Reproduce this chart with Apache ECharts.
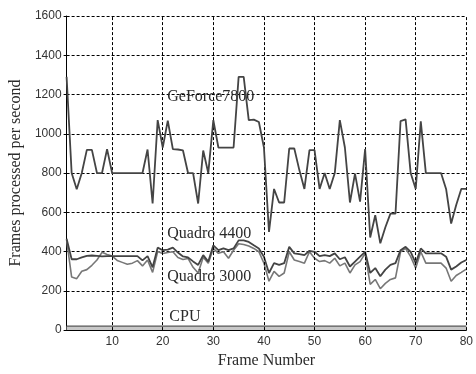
<!DOCTYPE html>
<html><head><meta charset="utf-8">
<script src="https://cdn.jsdelivr.net/npm/echarts@6/dist/echarts.min.js"></script>
<style>html,body{margin:0;padding:0;background:#fff}#c{width:476px;height:374px}</style>
</head><body><div id="c"></div><script>
const geforce7800 = [
  1290, 800, 718, 800, 918, 918, 800, 800, 922, 800,
  800, 800, 800, 800, 800, 800, 920, 645, 1070, 930,
  1067, 922, 920, 915, 800, 800, 645, 915, 800, 1070,
  930, 930, 930, 930, 1290, 1290, 1070, 1072, 1060, 930,
  500, 719, 650, 650, 925, 925, 815, 719, 917, 917,
  719, 800, 719, 800, 1070, 930, 650, 797, 654, 922,
  472, 585, 442, 524, 593, 593, 1065, 1073, 800, 719,
  1063, 800, 800, 800, 800, 719, 543, 637, 719, 719
];
const quadro4400 = [
  465, 361, 361, 370, 378, 380, 378, 376, 377, 377,
  377, 377, 377, 377, 377, 355, 377, 320, 420, 407,
  410, 420, 395, 375, 370, 350, 332, 382, 349, 432,
  407, 416, 407, 416, 457, 457, 449, 432, 416, 374,
  291, 341, 332, 341, 424, 391, 387, 382, 404, 399,
  377, 382, 377, 391, 361, 371, 324, 349, 374, 399,
  291, 316, 274, 308, 332, 341, 407, 424, 399, 341,
  416, 391, 391, 391, 391, 374, 308, 324, 344, 357
];
const quadro3000 = [
  460, 270, 262, 300, 308, 330, 357, 396, 385, 377,
  355, 345, 335, 341, 354, 327, 357, 294, 400, 390,
  395, 399, 370, 360, 365, 320, 291, 371, 341, 416,
  391, 399, 366, 407, 440, 436, 428, 416, 399, 341,
  249, 299, 274, 291, 399, 357, 349, 341, 399, 366,
  349, 354, 341, 366, 327, 341, 291, 332, 349, 391,
  233, 258, 211, 238, 258, 266, 399, 416, 374, 316,
  399, 341, 341, 341, 341, 316, 249, 278, 294, 311
];
const cpu = [
  20, 20, 20, 20, 20, 20, 20, 20, 20, 20,
  20, 20, 20, 20, 20, 20, 20, 20, 20, 20,
  20, 20, 20, 20, 20, 20, 20, 20, 20, 20,
  20, 20, 20, 20, 20, 20, 20, 20, 20, 20,
  20, 20, 20, 20, 20, 20, 20, 20, 20, 20,
  20, 20, 20, 20, 20, 20, 20, 20, 20, 20,
  20, 20, 20, 20, 20, 20, 20, 20, 20, 20,
  20, 20, 20, 20, 20, 20, 20, 20, 20, 20
];
const xTicks = [10, 20, 30, 40, 50, 60, 70, 80];
const seriesNames = ['GeForce7800', 'Quadro 4400', 'Quadro 3000', 'CPU'];
const labelAnchors = [[20.9, 1190], [20.9, 491], [20.9, 269], [21.3, 70]];

const pairs = arr => arr.map((v, i) => [i + 1, v]);
const serif = 'Liberation Serif, Times New Roman, serif';
const sans = 'Liberation Sans, Arial, sans-serif';

function textMark(idx) {
  return {
    silent: true, symbol: 'circle', symbolSize: 0,
    label: { show: true, position: 'right', distance: 0, formatter: seriesNames[idx],
             fontFamily: serif, fontSize: 16, color: '#2a2a2a' },
    data: [{ coord: labelAnchors[idx] }]
  };
}

const chart = echarts.init(document.getElementById('c'), null, { renderer: 'canvas' });
chart.setOption({
  animation: false,
  backgroundColor: '#fff',
  grid: { left: 62, right: 5, top: 16, bottom: 37, containLabel: false },
  xAxis: {
    type: 'value', min: 1, max: 80,
    name: 'Frame Number', nameLocation: 'middle', nameGap: 20,
    nameTextStyle: { fontFamily: serif, fontSize: 16, color: '#2a2a2a' },
    axisLine: { show: true, onZero: false, lineStyle: { color: '#000', width: 1 } },
    axisTick: { show: false },
    axisLabel: { customValues: xTicks, fontFamily: sans, fontSize: 12, color: '#333', margin: 6,
                 formatter: v => String(v) },
    splitLine: { show: false }
  },
  yAxis: {
    type: 'value', min: 0, max: 1600, interval: 200,
    name: 'Frames processed per second', nameLocation: 'middle', nameGap: 36,
    nameTextStyle: { fontFamily: serif, fontSize: 16, color: '#2a2a2a' },
    axisLine: { show: true, lineStyle: { color: '#000', width: 1 } },
    axisTick: { show: true, inside: false, length: 3, lineStyle: { color: '#000' } },
    axisLabel: { fontFamily: sans, fontSize: 12, color: '#333', margin: 5,
                 formatter: v => String(v) },
    splitLine: { show: true, lineStyle: { color: '#000', type: [3, 2], width: 1 } }
  },
  series: [
    { name: seriesNames[3], type: 'line', data: pairs(cpu), symbol: 'none', z: 2,
      lineStyle: { color: '#555', width: 1.2 },
      areaStyle: { color: '#c8c8c8', opacity: 1, origin: 0 },
      markLine: { silent: true, symbol: 'none', label: { show: false },
        lineStyle: { color: '#000', type: [3, 2], width: 1 },
        data: xTicks.map(v => ({ xAxis: v })) },
      markPoint: textMark(3) },
    { name: seriesNames[2], type: 'line', data: pairs(quadro3000), symbol: 'none', z: 3,
      lineStyle: { color: '#777', width: 1.6 }, markPoint: textMark(2) },
    { name: seriesNames[1], type: 'line', data: pairs(quadro4400), symbol: 'none', z: 4,
      lineStyle: { color: '#444', width: 1.8 }, markPoint: textMark(1) },
    { name: seriesNames[0], type: 'line', data: pairs(geforce7800), symbol: 'none', z: 5,
      lineStyle: { color: '#444', width: 1.8 }, markPoint: textMark(0) }
  ]
});
</script></body></html>
